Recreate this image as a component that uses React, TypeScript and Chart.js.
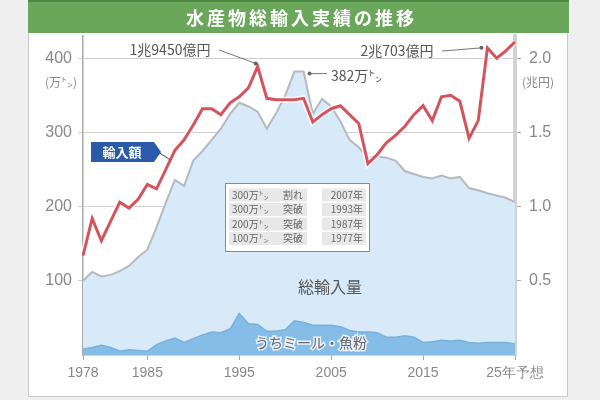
import React, { useEffect, useRef } from "react";
import { Chart, registerables } from "chart.js";
Chart.register(...registerables);

const years = [
  "1978","1979","1980","1981","1982","1983","1984","1985","1986","1987",
  "1988","1989","1990","1991","1992","1993","1994","1995","1996","1997",
  "1998","1999","2000","2001","2002","2003","2004","2005","2006","2007",
  "2008","2009","2010","2011","2012","2013","2014","2015","2016","2017",
  "2018","2019","2020","2021","2022","2023","2024","2025",
];
// 総輸入量 (万トン)
const totalVolume = [
  100, 112, 106, 108, 113, 120, 132, 142, 172, 205,
  236, 228, 262, 275, 290, 305, 325, 340, 335, 328,
  305, 326, 350, 382, 382, 325, 345, 335, 315, 290,
  280, 266, 268, 266, 262, 248, 244, 240, 238, 242,
  238, 240, 225, 222, 218, 215, 212, 206,
];
// うちミール・魚粉 (万トン)
const mealVolume = [
  8, 10, 13, 10, 5, 7, 6, 5, 14, 19,
  23, 17, 22, 27, 31, 30, 35, 56, 42, 41,
  32, 32, 34, 46, 44, 40, 40, 40, 38, 33,
  31, 31, 30, 24, 24, 26, 24, 17, 18, 20,
  19, 20, 17, 16, 17, 17, 17, 15,
];
// 輸入額 (兆円)
const importValue = [
  0.67, 0.92, 0.77, 0.90, 1.03, 0.99, 1.05, 1.15, 1.12, 1.25,
  1.38, 1.45, 1.55, 1.66, 1.66, 1.62, 1.70, 1.74, 1.80, 1.945,
  1.73, 1.72, 1.72, 1.72, 1.73, 1.57, 1.62, 1.66, 1.68, 1.62,
  1.56, 1.29, 1.35, 1.43, 1.48, 1.54, 1.62, 1.68, 1.58, 1.74,
  1.75, 1.71, 1.46, 1.58, 2.07, 2.00, 2.05, 2.11,
];
const leftTicks = [100, 200, 300, 400];
const rightTicks = [0.5, 1.0, 1.5, 2.0];
const xTickYears = ["1978", "1985", "1995", "2005", "2015", "2025"];
const xTickLabels = ["1978", "1985", "1995", "2005", "2015", "25年予想"];
const tableRows = [
  ["300万㌧", "割れ", "2007年"],
  ["300万㌧", "突破", "1993年"],
  ["200万㌧", "突破", "1987年"],
  ["100万㌧", "突破", "1977年"],
];
const title = "水産物総輸入実績の推移";
const peakValueLabel = "1兆9450億円";
const peakValueYear = "1997";
const lastValueLabel = "2兆703億円";
const lastValueYear = "2022";
const peakVolumeLabel = "382万㌧";
const peakVolumeYear = "2002";

const JP = '"Noto Sans CJK JP", "Noto Sans", sans-serif';
const NUM = '"Liberation Sans", Arial, sans-serif';

const decor = {
  id: "decor",
  beforeDraw(chart: any) {
    const ctx = chart.ctx;
    ctx.save();
    ctx.fillStyle = "#efefef";
    ctx.fillRect(0, 0, 600, 400);
    ctx.fillStyle = "#ffffff";
    ctx.fillRect(28, 32, 540, 365);
    ctx.strokeStyle = "#c9c9c9";
    ctx.lineWidth = 1;
    ctx.strokeRect(28.5, 32.5, 539, 364);
    ctx.fillStyle = "#6aa75b";
    ctx.fillRect(28, 0, 541, 33);
    ctx.fillStyle = "#4f8744";
    ctx.fillRect(28, 0, 541, 2);
    // title
    ctx.fillStyle = "#ffffff";
    ctx.font = "bold 18px " + JP;
    ctx.textBaseline = "middle";
    ctx.textAlign = "center";
    const adv = 21;
    const start = 300 - (title.length * adv) / 2 + adv / 2;
    for (let i = 0; i < title.length; i++) {
      ctx.fillText(title[i], start + i * adv, 18);
    }
    ctx.restore();
  },
  afterDatasetsDraw(chart: any) {
    const ctx = chart.ctx;
    const xs = chart.scales.x;
    const y = chart.scales.y;
    const y1 = chart.scales.y1;
    ctx.save();
    ctx.textBaseline = "middle";

    // units
    ctx.fillStyle = "#888";
    ctx.font = "12px " + JP;
    ctx.textAlign = "right";
    ctx.fillText("(万㌧)", 77, 82);
    ctx.textAlign = "left";
    ctx.fillText("(兆円)", 522, 82);

    // peak value annotation
    const pi = years.indexOf(peakValueYear);
    const px = xs.getPixelForValue(pi);
    const py = y1.getPixelForValue(importValue[pi]);
    ctx.fillStyle = "#555";
    ctx.font = "14px " + JP;
    ctx.textAlign = "center";
    ctx.fillText(peakValueLabel, 170, 50);
    ctx.strokeStyle = "#777";
    ctx.lineWidth = 1;
    ctx.beginPath();
    ctx.moveTo(219, 50);
    ctx.lineTo(px - 2, py - 3);
    ctx.stroke();
    ctx.fillStyle = "#666";
    ctx.beginPath();
    ctx.arc(px - 2, py - 3, 2, 0, Math.PI * 2);
    ctx.fill();

    // last value annotation
    const li = years.indexOf(lastValueYear);
    const lx = xs.getPixelForValue(li);
    const ly = y1.getPixelForValue(importValue[li]);
    ctx.fillStyle = "#555";
    ctx.font = "14px " + JP;
    ctx.textAlign = "center";
    ctx.fillText(lastValueLabel, 397, 51);
    ctx.strokeStyle = "#777";
    ctx.beginPath();
    ctx.moveTo(442, 51);
    ctx.lineTo(lx - 6, ly);
    ctx.stroke();
    ctx.fillStyle = "#666";
    ctx.beginPath();
    ctx.arc(lx - 6, ly, 2, 0, Math.PI * 2);
    ctx.fill();

    // peak volume annotation
    const vi = years.indexOf(peakVolumeYear);
    const vx = xs.getPixelForValue(vi);
    const vy = y.getPixelForValue(totalVolume[vi]);
    ctx.strokeStyle = "#777";
    ctx.beginPath();
    ctx.moveTo(vx + 6, vy + 2);
    ctx.lineTo(327, vy + 2);
    ctx.stroke();
    ctx.fillStyle = "#666";
    ctx.beginPath();
    ctx.arc(vx + 6, vy + 2, 2, 0, Math.PI * 2);
    ctx.fill();
    ctx.fillStyle = "#555";
    ctx.font = "14px " + JP;
    ctx.textAlign = "left";
    ctx.fillText(peakVolumeLabel, 331, vy + 4);

    // 輸入額 label box
    const ai = years.indexOf("1987");
    const ax = (xs.getPixelForValue(ai) + xs.getPixelForValue(ai + 1)) / 2;
    const ay = (y1.getPixelForValue(importValue[ai]) + y1.getPixelForValue(importValue[ai + 1])) / 2;
    ctx.strokeStyle = "#444";
    ctx.lineWidth = 1;
    ctx.beginPath();
    ctx.moveTo(158, 152);
    ctx.lineTo(ax, ay);
    ctx.stroke();
    ctx.fillStyle = "#2b5ba8";
    ctx.beginPath();
    ctx.moveTo(91, 142);
    ctx.lineTo(154, 142);
    ctx.lineTo(161, 152);
    ctx.lineTo(154, 162);
    ctx.lineTo(91, 162);
    ctx.closePath();
    ctx.fill();
    ctx.fillStyle = "#ffffff";
    ctx.font = "bold 13px " + JP;
    ctx.textAlign = "center";
    ctx.fillText("輸入額", 122, 152);

    // table
    ctx.fillStyle = "#ffffff";
    ctx.fillRect(225, 183, 145, 69);
    ctx.strokeStyle = "#8a8a8a";
    ctx.strokeRect(225.5, 183.5, 144, 68);
    ctx.font = "10px " + JP;
    for (let r = 0; r < tableRows.length; r++) {
      const cy = 195 + r * 14.5;
      ctx.fillStyle = "#e8e8e8";
      ctx.fillRect(229, cy - 6.5, 78, 13);
      ctx.fillRect(322, cy - 6.5, 44, 13);
      ctx.fillStyle = "#666";
      ctx.textAlign = "left";
      ctx.fillText(tableRows[r][0], 232, cy);
      ctx.fillText(tableRows[r][1], 283, cy);
      ctx.textAlign = "right";
      ctx.fillText(tableRows[r][2], 363, cy);
    }

    // series labels
    ctx.textAlign = "center";
    ctx.fillStyle = "#555";
    ctx.font = "16px " + JP;
    ctx.fillText("総輸入量", 330, 287);
    ctx.font = "14px " + JP;
    ctx.lineWidth = 3;
    ctx.strokeStyle = "rgba(255,255,255,0.8)";
    ctx.strokeText("うちミール・魚粉", 311, 343);
    ctx.fillStyle = "#666";
    ctx.fillText("うちミール・魚粉", 311, 343);
    ctx.restore();
  },
};

export default function App() {
  const ref = useRef<HTMLCanvasElement>(null);
  useEffect(() => {
    if (!ref.current) return;
    const chart = new Chart(ref.current, {
      type: "line",
      data: {
        labels: years,
        datasets: [
          {
            label: "輸入額",
            data: importValue,
            yAxisID: "y1",
            borderColor: "#d5545c",
            borderWidth: 3,
            pointRadius: 0,
            fill: false,
            order: 0,
          },
          {
            label: "halo",
            data: importValue,
            yAxisID: "y1",
            borderColor: "rgba(255,255,255,0.85)",
            borderWidth: 6,
            pointRadius: 0,
            fill: false,
            order: 1,
          },
          {
            label: "うちミール・魚粉",
            data: mealVolume,
            yAxisID: "y",
            borderColor: "#78b0dc",
            backgroundColor: "#86bde7",
            borderWidth: 1.5,
            pointRadius: 0,
            fill: "origin",
            order: 2,
          },
          {
            label: "総輸入量",
            data: totalVolume,
            yAxisID: "y",
            borderColor: "#b3bac1",
            backgroundColor: "#d8e9f7",
            borderWidth: 2,
            pointRadius: 0,
            fill: "origin",
            order: 3,
          },
        ],
      },
      options: {
        responsive: false,
        animation: false,
        devicePixelRatio: 1,
        layout: { padding: { left: 28, right: 32, top: 36, bottom: 3 } },
        plugins: { legend: { display: false }, tooltip: { enabled: false } },
        scales: {
          x: {
            type: "category",
            offset: false,
            border: { display: true, color: "#aaa", width: 1.5 },
            grid: { drawOnChartArea: false, tickLength: 5, color: "#aaa" },
            afterBuildTicks: (s: any) => {
              s.ticks = xTickYears.map((yr) => ({ value: years.indexOf(yr) }));
            },
            afterFit: (s: any) => {
              s.height = 42;
            },
            ticks: {
              autoSkip: false,
              maxRotation: 0,
              padding: 5,
              color: "#888",
              font: { size: 14, family: NUM },
              callback: (v: any) => {
                const i = xTickYears.indexOf(years[v]);
                return i >= 0 ? xTickLabels[i] : "";
              },
            },
          },
          y: {
            position: "left",
            min: 0,
            max: 430,
            border: { display: true, color: "#aaa", width: 1.5 },
            grid: { color: "#cfcfcf", lineWidth: 1, tickLength: 5 },
            afterBuildTicks: (s: any) => {
              s.ticks = leftTicks.map((v) => ({ value: v }));
            },
            afterFit: (s: any) => {
              s.width = 55;
            },
            ticks: {
              padding: 6,
              color: "#888",
              font: { size: 16, family: NUM },
            },
          },
          y1: {
            position: "right",
            min: 0,
            max: 2.15,
            border: { display: true, color: "#d2d2d2", width: 4 },
            grid: { drawOnChartArea: false, tickLength: 6, color: "#aaa" },
            afterBuildTicks: (s: any) => {
              s.ticks = rightTicks.map((v) => ({ value: v }));
            },
            afterFit: (s: any) => {
              s.width = 53;
            },
            ticks: {
              padding: 8,
              color: "#888",
              font: { size: 16, family: NUM },
              callback: (v: any) => Number(v).toFixed(1),
            },
          },
        },
      },
      plugins: [decor],
    });
    return () => chart.destroy();
  }, []);
  return (
    <div style={{ position: "fixed", left: 0, top: 0, width: 600, height: 400 }}>
      <canvas ref={ref} width={600} height={400} style={{ display: "block" }} />
    </div>
  );
}
